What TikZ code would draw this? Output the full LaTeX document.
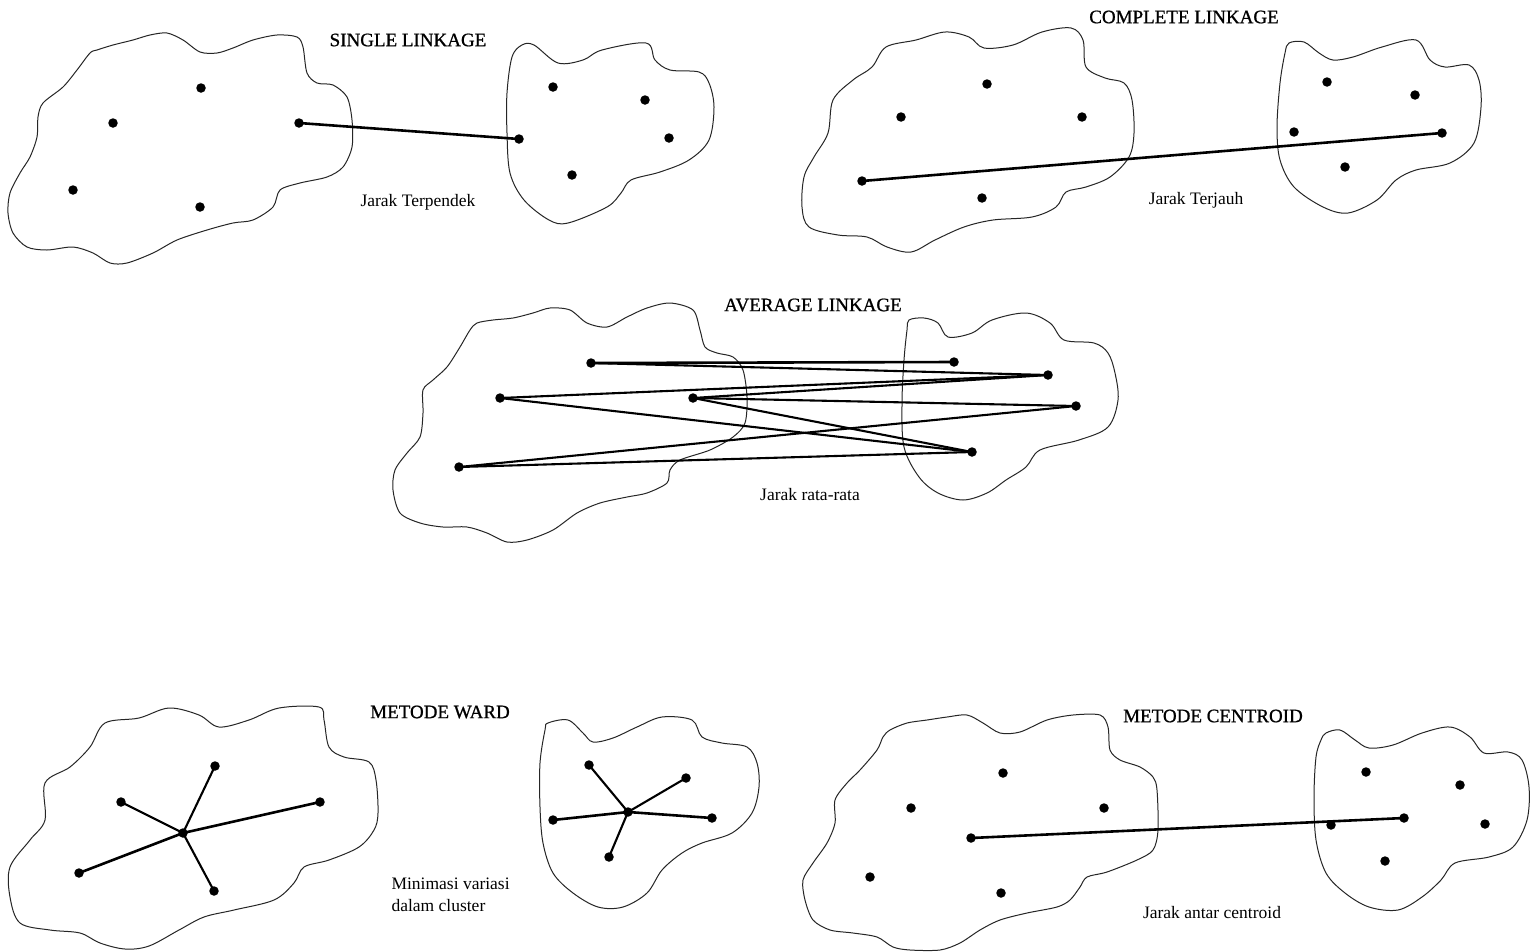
\documentclass[tikz,border=0pt]{standalone}
\usepackage{fontspec}
\setmainfont{Liberation Serif}
\newfontfamily\ttlfont{Liberation Serif}[FakeBold=0.9]
\begin{document}
\begin{tikzpicture}[x=1pt,y=-1pt,
  blob/.style={draw=black!85,line width=1pt},
  pt/.style={circle,fill=black,inner sep=0pt,minimum size=9.5pt},
  link/.style={line width=2.6pt},
  thin link/.style={line width=2.1pt},
  ttl/.style={font=\ttlfont\fontsize{19}{22}\selectfont},
  lbl/.style={font=\fontsize{17.5}{22}\selectfont,align=left}]
\useasboundingbox[fill=white] (0,0) rectangle (1530,951);

% ---------- SINGLE LINKAGE ----------
\draw[blob] plot[smooth cycle,tension=0.5] coordinates {(97,50) (113,45) (133,40) (150,35) (167,33) (183,40) (200,52) (217,53) (233,48) (253,40) (277,35) (297,37) (303,47) (307,73) (317,83) (333,85) (347,97) (352,120) (352,147) (343,167) (327,177) (300,183) (280,190) (273,207) (253,220) (233,223) (207,230) (177,240) (153,253) (127,263) (110,263) (93,253) (73,247) (47,250) (27,247) (13,233) (8,213) (10,193) (20,173) (30,157) (37,137) (38,117) (43,103) (63,87) (77,70) (90,53)};
\draw[blob] plot[smooth cycle,tension=0.55] coordinates {(522,45) (534,45) (558,63) (583,60) (602,50) (646,43) (655,60) (670,70) (699,72) (709,83) (714,107) (709,140) (689,160) (660,172) (631,180) (621,193) (607,207) (568,223) (549,220) (524,200) (510,173) (507,133) (507,93) (512,57)};
\node[pt] (s1) at (201,88) {};
\node[pt] (s2) at (113,123) {};
\node[pt] (s3) at (299,123) {};
\node[pt] (s4) at (73,190) {};
\node[pt] (s5) at (200,207) {};
\node[pt] (s6) at (553,87) {};
\node[pt] (s7) at (645,100) {};
\node[pt] (s8) at (669,138) {};
\node[pt] (s9) at (572,175) {};
\node[pt] (s10) at (519,139) {};
\draw[link] (s3.center) -- (s10.center);
\node[ttl] (t1) at (408,40) {SINGLE LINKAGE};
\node[lbl] (l1) at (418,202) {Jarak Terpendek};

% ---------- COMPLETE LINKAGE ----------
\draw[blob] plot[smooth cycle,tension=0.55] coordinates {(886,47) (916,40) (945,32) (969,37) (984,48) (1013,45) (1042,32) (1071,28) (1083,40) (1086,67) (1105,78) (1124,83) (1132,100) (1134,133) (1129,157) (1110,177) (1086,187) (1066,192) (1056,207) (1032,217) (993,220) (964,227) (935,240) (911,252) (887,247) (867,237) (838,235) (809,227) (802,207) (804,177) (814,157) (828,133) (833,100) (853,80) (872,67)};
\draw[blob] plot[smooth cycle,tension=0.55] coordinates {(1289,43) (1304,42) (1319,53) (1333,60) (1353,57) (1382,47) (1416,40) (1430,60) (1445,67) (1469,65) (1479,80) (1481,107) (1474,143) (1450,163) (1416,170) (1396,180) (1377,200) (1348,213) (1323,207) (1294,187) (1280,160) (1277,127) (1280,83) (1285,53)};
\node[pt] (c1) at (987,84) {};
\node[pt] (c2) at (901,117) {};
\node[pt] (c3) at (1082,117) {};
\node[pt] (c4) at (862,181) {};
\node[pt] (c5) at (982,198) {};
\node[pt] (c6) at (1327,82) {};
\node[pt] (c7) at (1415,95) {};
\node[pt] (c8) at (1294,132) {};
\node[pt] (c9) at (1442,133) {};
\node[pt] (c10) at (1345,167) {};
\draw[link] (c4.center) -- (c9.center);
\node[ttl] (t2) at (1184,17) {COMPLETE LINKAGE};
\node[lbl] (l2) at (1196,200) {Jarak Terjauh};

% ---------- AVERAGE LINKAGE ----------
\draw[blob] plot[smooth cycle,tension=0.5] coordinates {(477,323) (493,320) (513,318) (533,313) (550,308) (570,310) (587,323) (607,327) (627,317) (647,308) (670,303) (693,310) (700,330) (705,347) (717,353) (733,357) (743,370) (747,397) (745,423) (733,437) (710,450) (680,460) (670,470) (667,483) (647,493) (627,497) (600,503) (577,513) (553,530) (527,540) (507,542) (487,533) (467,527) (443,527) (420,523) (400,513) (393,490) (395,470) (407,453) (420,437) (423,413) (423,390) (433,380) (447,367) (460,347) (470,330)};
\draw[blob] plot[smooth cycle,tension=0.55] coordinates {(909,320) (924,318) (938,323) (948,337) (972,333) (992,320) (1026,313) (1050,323) (1064,340) (1094,343) (1108,353) (1115,373) (1118,400) (1108,427) (1079,440) (1040,450) (1026,467) (1006,480) (987,493) (963,500) (938,493) (919,477) (904,447) (902,403) (904,360) (907,330)};
\node[pt] (a1) at (591,363) {};
\node[pt] (a2) at (500,398) {};
\node[pt] (a3) at (693,398) {};
\node[pt] (a4) at (459,467) {};
\node[pt] (a5) at (954,362) {};
\node[pt] (a6) at (1048,375) {};
\node[pt] (a7) at (1076,406) {};
\node[pt] (a8) at (972,452) {};
\draw[link] (a1.center) -- (a5.center);
\draw[thin link] (a1.center) -- (a6.center);
\draw[thin link] (a2.center) -- (a6.center);
\draw[thin link] (a2.center) -- (a8.center);
\draw[thin link] (a3.center) -- (a6.center);
\draw[thin link] (a3.center) -- (a7.center);
\draw[thin link] (a3.center) -- (a8.center);
\draw[thin link] (a4.center) -- (a7.center);
\draw[thin link] (a4.center) -- (a8.center);
\node[ttl] (t3) at (813,305) {AVERAGE LINKAGE};
\node[lbl] (l3) at (810,495) {Jarak rata-rata};

% ---------- METODE WARD ----------
\draw[blob] plot[smooth cycle,tension=0.55] coordinates {(105,723) (139,718) (169,708) (199,715) (219,727) (249,720) (279,708) (319,707) (324,720) (329,747) (344,757) (369,762) (376,780) (378,813) (374,830) (359,847) (329,860) (304,867) (294,883) (274,900) (234,910) (204,917) (179,930) (149,946) (125,949) (100,943) (80,933) (50,930) (20,923) (10,897) (10,867) (30,840) (45,820) (45,783) (70,767) (90,747)};
\draw[blob] plot[smooth cycle,tension=0.55] coordinates {(548,723) (568,720) (583,733) (593,742) (613,738) (637,727) (662,717) (692,720) (702,737) (722,743) (747,747) (757,763) (759,787) (752,813) (732,833) (702,843) (682,853) (662,870) (647,893) (623,907) (598,907) (573,893) (553,873) (543,843) (540,807) (540,763) (545,730)};
\node[pt] (w0) at (183,833) {};
\node[pt] (w1) at (215,766) {};
\node[pt] (w2) at (121,802) {};
\node[pt] (w3) at (320,802) {};
\node[pt] (w4) at (79,873) {};
\node[pt] (w5) at (214,891) {};
\draw[thin link] (w0.center) -- (w1.center);
\draw[thin link] (w0.center) -- (w2.center);
\draw[link] (w0.center) -- (w3.center);
\draw[link] (w0.center) -- (w4.center);
\draw[thin link] (w0.center) -- (w5.center);
\node[pt] (v0) at (628,812) {};
\node[pt] (v1) at (589,765) {};
\node[pt] (v2) at (686,778) {};
\node[pt] (v3) at (553,820) {};
\node[pt] (v4) at (712,818) {};
\node[pt] (v5) at (609,857) {};
\draw[thin link] (v0.center) -- (v1.center);
\draw[thin link] (v0.center) -- (v2.center);
\draw[link] (v0.center) -- (v3.center);
\draw[link] (v0.center) -- (v4.center);
\draw[thin link] (v0.center) -- (v5.center);
\node[ttl] (t4) at (440,712) {METODE WARD};
\node[lbl,anchor=west] (l4) at (388,895) {Minimasi variasi\\dalam cluster};

% ---------- METODE CENTROID ----------
\draw[blob] plot[smooth cycle,tension=0.5] coordinates {(890,730) (907,723) (927,720) (947,717) (967,715) (983,723) (1000,733) (1020,732) (1047,720) (1073,715) (1100,715) (1108,727) (1110,750) (1120,760) (1140,767) (1153,777) (1157,790) (1158,830) (1153,850) (1137,860) (1107,872) (1087,877) (1080,887) (1070,900) (1057,907) (1027,913) (1000,920) (980,930) (960,943) (940,950) (910,950) (893,947) (877,937) (853,933) (830,930) (813,920) (805,900) (803,880) (813,863) (827,843) (835,823) (835,800) (847,783) (860,770) (877,750) (883,737)};
\draw[blob] plot[smooth cycle,tension=0.55] coordinates {(1326,733) (1340,730) (1355,740) (1369,748) (1393,745) (1422,733) (1450,727) (1470,737) (1484,753) (1508,752) (1522,760) (1529,787) (1527,820) (1513,847) (1489,857) (1455,863) (1441,880) (1422,897) (1398,910) (1369,907) (1345,893) (1326,873) (1316,840) (1314,797) (1316,757) (1321,740)};
\node[pt] (e1) at (1003,773) {};
\node[pt] (e2) at (911,808) {};
\node[pt] (e3) at (1104,808) {};
\node[pt] (e4) at (971,838) {};
\node[pt] (e5) at (870,877) {};
\node[pt] (e6) at (1001,893) {};
\node[pt] (f1) at (1366,772) {};
\node[pt] (f2) at (1460,785) {};
\node[pt] (f3) at (1331,825) {};
\node[pt] (f4) at (1404,818) {};
\node[pt] (f5) at (1485,824) {};
\node[pt] (f6) at (1385,861) {};
\draw[link] (e4.center) -- (f4.center);
\node[ttl] (t5) at (1213,716) {METODE CENTROID};
\node[lbl] (l5) at (1212,912) {Jarak antar centroid};
\end{tikzpicture}
\end{document}
